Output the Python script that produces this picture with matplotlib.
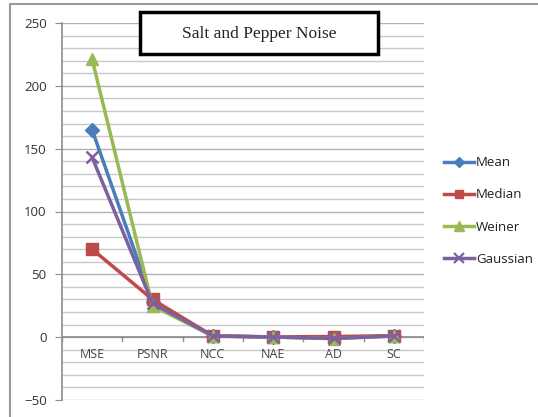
import matplotlib.pyplot as plt
from matplotlib.patches import Rectangle
from matplotlib.lines import Line2D

# categories and series
metrics = ["MSE", "PSNR", "NCC", "NAE", "AD", "SC"]
mean = [165, 28, 1, 0.2, -0.8, 1]
median = [70, 30, 1, 0.2, 0.5, 1.2]
weiner = [221, 25, 0.8, 0.1, -1.2, 0.9]
gaussian = [143, 27, 0.9, 0.1, -1.0, 1.0]

series = [
    ("Mean", mean, "#4A7EBB", "D", 7),
    ("Median", median, "#BE4B48", "s", 8),
    ("Weiner", weiner, "#98B954", "^", 9),
    ("Gaussian", gaussian, "#7D60A0", "x", 9),
]

W, H = 538, 417
fig = plt.figure(figsize=(W / 100, H / 100), dpi=100)

# chart area border (goes off the right and bottom edges)
fig.patches.append(Rectangle((10 / W, -0.05), 1.2, 1 - 4 / H + 0.05,
                             transform=fig.transFigure, fill=False,
                             edgecolor="#9a9a9a", linewidth=1.5))

ax = fig.add_axes([62 / W, 1 - 400 / H, 362 / W, 377 / H])
x = list(range(len(metrics)))

# grid: every 10 units
for v in range(-50, 251, 10):
    ax.axhline(v, color="#c8c8c8" if v % 50 else "#b0b0b0", linewidth=1.0, zorder=0)
ax.axhline(0, color="#8c8c8c", linewidth=1.2, zorder=1)

for name, vals, col, mk, ms in series:
    kw = dict(markeredgewidth=1.8) if mk == "x" else dict(markeredgecolor=col)
    ax.plot(x, vals, color=col, linewidth=2.5, marker=mk, markersize=ms,
            label=name, zorder=3, **kw)

ax.set_xlim(-0.5, len(metrics) - 0.5)
ax.set_ylim(-50, 250)
ax.set_yticks(range(-50, 251, 50))
ax.set_xticks([])
for s in ["top", "right", "bottom"]:
    ax.spines[s].set_visible(False)
ax.spines["left"].set_color("#8c8c8c")
ax.spines["left"].set_linewidth(1.2)
ax.tick_params(axis="y", direction="out", length=5, color="#8c8c8c",
               labelsize=9.5, labelcolor="#333333", pad=6)
for lab in ax.get_yticklabels():
    lab.set_fontfamily("Open Sans")

# category ticks on the zero line and labels below it
for b in range(len(metrics) + 1):
    ax.plot([b - 0.5, b - 0.5], [0, -3], color="#8c8c8c", linewidth=1.0, zorder=1)
for i, m in enumerate(metrics):
    ax.text(i, -14, m, ha="center", va="center", fontsize=9,
            color="#444444", family="Open Sans")

# title box
fig.patches.append(Rectangle((140 / W, 1 - 54 / H), 238 / W, 42 / H,
                             transform=fig.transFigure, facecolor="white",
                             edgecolor="black", linewidth=2.5, zorder=5))
fig.text(259 / W, 1 - 34 / H, "Salt and Pepper Noise", ha="center", va="center",
         fontsize=12.5, family="Liberation Serif", color="#222222", zorder=6)

# legend
handles = []
for name, vals, col, mk, ms in series:
    kw = dict(markeredgewidth=1.6) if mk == "x" else dict(markeredgecolor=col)
    handles.append(Line2D([], [], color=col, linewidth=2.5, marker=mk,
                          markersize=ms - 2, **kw))
fig.legend(handles, [s[0] for s in series], loc="center left",
           bbox_to_anchor=(432 / W, 1 - 211 / H), frameon=False,
           prop={"family": "Open Sans", "size": 9.5}, labelspacing=1.45,
           handlelength=2.3, handletextpad=0.15, labelcolor="#222222")

fig.savefig("out.png", dpi=100)
